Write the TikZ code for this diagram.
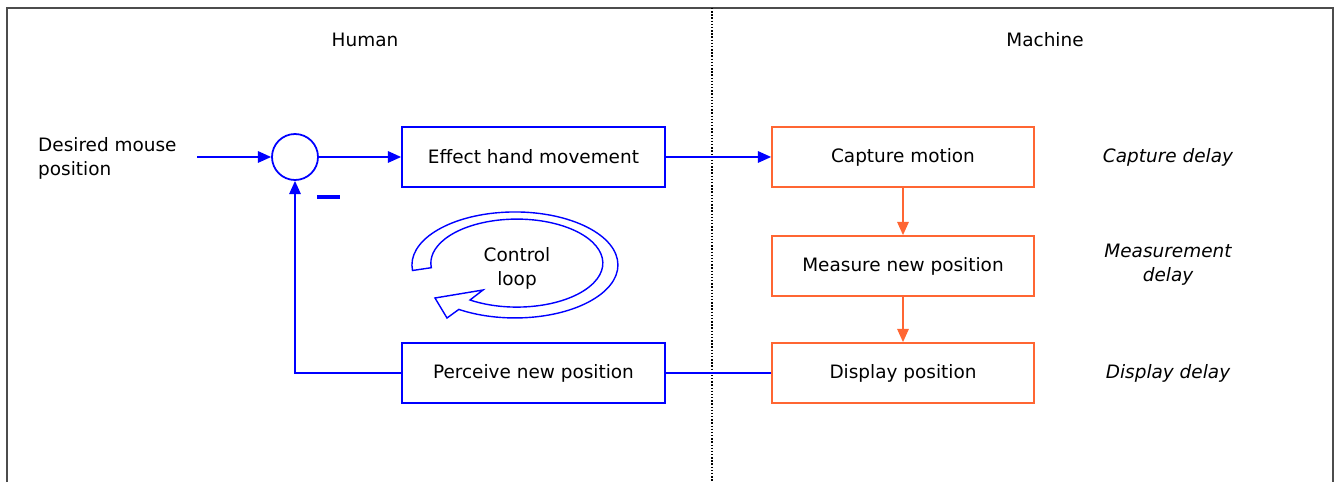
\documentclass[tikz,border=0pt]{standalone}
\usepackage{fontspec}
\setmainfont{DejaVu Sans}
\usetikzlibrary{arrows.meta}
\definecolor{hblue}{RGB}{0,0,255}
\definecolor{morange}{RGB}{255,102,51}
\begin{document}
\begin{tikzpicture}[every node/.style={font=\fontsize{10.5}{13.6}\selectfont},
    hbox/.style={draw=hblue,line width=1pt,minimum width=5.26cm,minimum height=1.2cm,inner sep=0pt},
    mbox/.style={draw=morange,line width=1pt,minimum width=5.24cm,minimum height=1.2cm,inner sep=0pt},
    hline/.style={hblue,line width=1pt},
    harrow/.style={hline,-{Triangle[length=7.5pt,width=6.5pt]}},
    marrow/.style={morange,line width=1pt,-{Triangle[length=7.5pt,width=6.5pt]}},
    delay/.style={font=\fontsize{10.5}{13.6}\selectfont\itshape,align=center}]
  \useasboundingbox (0,0) rectangle (26.76,9.64);
  % frame and divider
  \draw[black!70,line width=1.2pt] (0.14,0) -- (0.14,9.48) -- (26.66,9.48) -- (26.66,0);
  \draw[densely dotted,line width=0.8pt] (14.24,9.48) -- (14.24,0);
  \node (human) at (7.3,8.84) {Human};
  \node (machine) at (20.9,8.84) {Machine};
  % HUMAN side
  \node[align=left,anchor=west] (desired) at (0.64,6.48) {Desired mouse\\position};
  \coordinate (din) at (3.94,6.5);
  \node[circle,draw=hblue,line width=1pt,minimum size=0.92cm,inner sep=0pt] (sum) at (5.9,6.5) {};
  \draw[hblue,line width=2.2pt] (6.34,5.7) -- (6.8,5.7);
  \node[hbox] (effect) at (10.67,6.5) {Effect hand movement};
  \node[hbox] (perceive) at (10.67,2.18) {Perceive new position};
  % control loop
  \draw[hblue,fill=white,line width=0.8pt] (8.25,4.23)
    arc[start angle=186,end angle=-123,x radius=2.06cm,y radius=1.06cm]
    -- (8.94,3.28) -- (8.70,3.68) -- (9.66,3.84) -- (9.40,3.64)
    arc[start angle=-123,end angle=186,x radius=1.72cm,y radius=0.88cm] -- cycle;
  \node[align=center] (loop) at (10.34,4.28) {Control\\loop};
  % MACHINE side
  \node[mbox] (capture) at (18.06,6.5) {Capture motion};
  \node[mbox] (measure) at (18.06,4.32) {Measure new position};
  \node[mbox] (display) at (18.06,2.18) {Display position};
  \node[delay] (cdelay) at (23.36,6.5) {Capture delay};
  \node[delay] (mdelay) at (23.36,4.34) {Measurement\\delay};
  \node[delay] (ddelay) at (23.36,2.18) {Display delay};
  % connectors
  \draw[harrow] (din) -- (sum);
  \draw[harrow] (sum) -- (effect);
  \draw[harrow] (effect) -- (capture);
  \draw[marrow] (capture) -- (measure);
  \draw[marrow] (measure) -- (display);
  \draw[hline] (display) -- (perceive);
  \draw[harrow] (perceive.west) -| (sum.south);
\end{tikzpicture}
\end{document}
